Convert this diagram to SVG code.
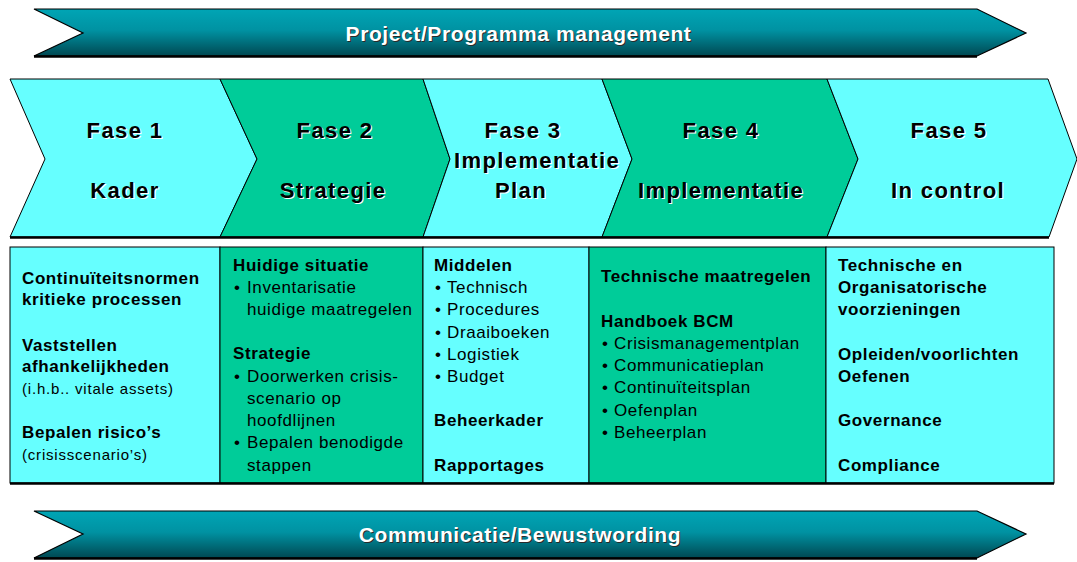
<svg xmlns="http://www.w3.org/2000/svg" width="1077" height="562" viewBox="0 0 1077 562">
  <defs>
    <linearGradient id="bannerFill" x1="0" y1="0" x2="0" y2="1">
      <stop offset="0" stop-color="#00A5B5"/>
      <stop offset="0.45" stop-color="#0092A2"/>
      <stop offset="1" stop-color="#004852"/>
    </linearGradient>
    <style>
      text { font-family: "Liberation Sans", Arial, sans-serif; }
      .banner { fill: url(#bannerFill); stroke: #000; stroke-width: 1.2; stroke-linejoin: miter; }
      .edge { stroke: #000; fill: none; }
      .bt { font-weight: bold; font-size: 21px; letter-spacing: 0.6px; text-anchor: middle; fill: #fff; }
      .bts { font-weight: bold; font-size: 21px; letter-spacing: 0.6px; text-anchor: middle; fill: #2a2a2a; }
      .light { fill: #66FFFF; }
      .dark { fill: #00CC99; }
      .chev { stroke: #000; stroke-width: 1; }
      .ph { font-weight: bold; font-size: 22px; letter-spacing: 1.4px; text-anchor: middle; fill: #000; }
      .phs { font-weight: bold; font-size: 22px; letter-spacing: 1.4px; text-anchor: middle; fill: #fff; }
      .b { font-weight: bold; font-size: 17px; letter-spacing: 0.6px; fill: #000; }
      .r { font-size: 17px; letter-spacing: 0.6px; fill: #000; }
      .s { font-size: 15px; letter-spacing: 0.8px; fill: #000; }
    </style>
  </defs>

  <!-- top banner -->
  <g id="banner-project">
    <path class="banner" d="M34,9 L977,9 L1026,33 L977,56 L34,56 L83,33 Z"/>
    <line class="edge" x1="34" y1="56.5" x2="977" y2="56.5" stroke-width="2.5"/>
    <text class="bts" x="519.5" y="42">Project/Programma management</text>
    <text class="bt" x="518.5" y="41">Project/Programma management</text>
  </g>

  <!-- phase chevrons -->
  <g id="fase-1">
    <path class="light chev" d="M10,79 L220,79 L257,159 L220,237 L10,237 L45,159 Z"/>
    <text class="phs" x="126" y="139">Fase 1</text>
    <text class="ph" x="125" y="138">Fase 1</text>
    <text class="phs" x="126" y="199">Kader</text>
    <text class="ph" x="125" y="198">Kader</text>
  </g>
  <g id="fase-2">
    <path class="dark chev" d="M220,79 L423,79 L450,159 L423,237 L220,237 L257,159 Z"/>
    <text class="phs" x="336" y="139">Fase 2</text>
    <text class="ph" x="335" y="138">Fase 2</text>
    <text class="phs" x="334" y="199">Strategie</text>
    <text class="ph" x="333" y="198">Strategie</text>
  </g>
  <g id="fase-3">
    <path class="light chev" d="M423,79 L602,79 L632,159 L602,237 L423,237 L450,159 Z"/>
    <text class="phs" x="524" y="139">Fase 3</text>
    <text class="ph" x="523" y="138">Fase 3</text>
    <text class="phs" x="538" y="169">Implementatie</text>
    <text class="ph" x="537" y="168">Implementatie</text>
    <text class="phs" x="522" y="199">Plan</text>
    <text class="ph" x="521" y="198">Plan</text>
  </g>
  <g id="fase-4">
    <path class="dark chev" d="M602,79 L827,79 L858,159 L827,237 L602,237 L632,159 Z"/>
    <text class="phs" x="722" y="139">Fase 4</text>
    <text class="ph" x="721" y="138">Fase 4</text>
    <text class="phs" x="722" y="199">Implementatie</text>
    <text class="ph" x="721" y="198">Implementatie</text>
  </g>
  <g id="fase-5">
    <path class="light chev" d="M827,79 L1048,79 L1077,159 L1049,237 L827,237 L858,159 Z"/>
    <text class="phs" x="950" y="139">Fase 5</text>
    <text class="ph" x="949" y="138">Fase 5</text>
    <text class="phs" x="949" y="199">In control</text>
    <text class="ph" x="948" y="198">In control</text>
  </g>
  <line class="edge" x1="10" y1="237.5" x2="1049" y2="237.5" stroke-width="2.5"/>

  <!-- content boxes -->
  <g id="box-kader">
    <rect class="light" x="10" y="247" width="210" height="236" stroke="#000" stroke-width="1"/>
    <text class="b" x="22" y="284">Continuïteitsnormen</text>
    <text class="b" x="22" y="305">kritieke processen</text>
    <text class="b" x="22" y="351">Vaststellen</text>
    <text class="b" x="22" y="372">afhankelijkheden</text>
    <text class="s" x="22" y="394">(i.h.b.. vitale assets)</text>
    <text class="b" x="22" y="438">Bepalen risico’s</text>
    <text class="s" x="22" y="460">(crisisscenario’s)</text>
  </g>
  <g id="box-strategie">
    <rect class="dark" x="220" y="247" width="203" height="236" stroke="#000" stroke-width="1"/>
    <text class="b" x="233" y="271">Huidige situatie</text>
    <text class="r" x="234" y="293">•</text>
    <text class="r" x="247" y="293">Inventarisatie</text>
    <text class="r" x="247" y="315">huidige maatregelen</text>
    <text class="b" x="233" y="359">Strategie</text>
    <text class="r" x="234" y="382">•</text>
    <text class="r" x="247" y="382">Doorwerken crisis-</text>
    <text class="r" x="247" y="404">scenario op</text>
    <text class="r" x="247" y="426">hoofdlijnen</text>
    <text class="r" x="234" y="448">•</text>
    <text class="r" x="247" y="448">Bepalen benodigde</text>
    <text class="r" x="247" y="471">stappen</text>
  </g>
  <g id="box-implementatieplan">
    <rect class="light" x="423" y="247" width="166" height="236" stroke="#000" stroke-width="1"/>
    <text class="b" x="434" y="271">Middelen</text>
    <text class="r" x="435" y="293">•</text>
    <text class="r" x="447" y="293">Technisch</text>
    <text class="r" x="435" y="315">•</text>
    <text class="r" x="447" y="315">Procedures</text>
    <text class="r" x="435" y="338">•</text>
    <text class="r" x="447" y="338">Draaiboeken</text>
    <text class="r" x="435" y="360">•</text>
    <text class="r" x="447" y="360">Logistiek</text>
    <text class="r" x="435" y="382">•</text>
    <text class="r" x="447" y="382">Budget</text>
    <text class="b" x="434" y="426">Beheerkader</text>
    <text class="b" x="434" y="471">Rapportages</text>
  </g>
  <g id="box-implementatie">
    <rect class="dark" x="589" y="247" width="237" height="236" stroke="#000" stroke-width="1"/>
    <text class="b" x="601" y="282">Technische maatregelen</text>
    <text class="b" x="601" y="327">Handboek BCM</text>
    <text class="r" x="602" y="349">•</text>
    <text class="r" x="614" y="349">Crisismanagementplan</text>
    <text class="r" x="602" y="371">•</text>
    <text class="r" x="614" y="371">Communicatieplan</text>
    <text class="r" x="602" y="393">•</text>
    <text class="r" x="614" y="393">Continuïteitsplan</text>
    <text class="r" x="602" y="416">•</text>
    <text class="r" x="614" y="416">Oefenplan</text>
    <text class="r" x="602" y="438">•</text>
    <text class="r" x="614" y="438">Beheerplan</text>
  </g>
  <g id="box-in-control">
    <rect class="light" x="826" y="247" width="228" height="236" stroke="#000" stroke-width="1"/>
    <text class="b" x="838" y="271">Technische en</text>
    <text class="b" x="838" y="293">Organisatorische</text>
    <text class="b" x="838" y="315">voorzieningen</text>
    <text class="b" x="838" y="360">Opleiden/voorlichten</text>
    <text class="b" x="838" y="382">Oefenen</text>
    <text class="b" x="838" y="426">Governance</text>
    <text class="b" x="838" y="471">Compliance</text>
  </g>
  <line class="edge" x1="10" y1="483.5" x2="1054" y2="483.5" stroke-width="2.5"/>

  <!-- bottom banner -->
  <g id="banner-communicatie">
    <path class="banner" d="M34,511 L977,511 L1026,534 L977,558 L34,558 L83,534 Z"/>
    <line class="edge" x1="34" y1="558.5" x2="977" y2="558.5" stroke-width="2.5"/>
    <text class="bts" x="521" y="543">Communicatie/Bewustwording</text>
    <text class="bt" x="520" y="542">Communicatie/Bewustwording</text>
  </g>
</svg>
